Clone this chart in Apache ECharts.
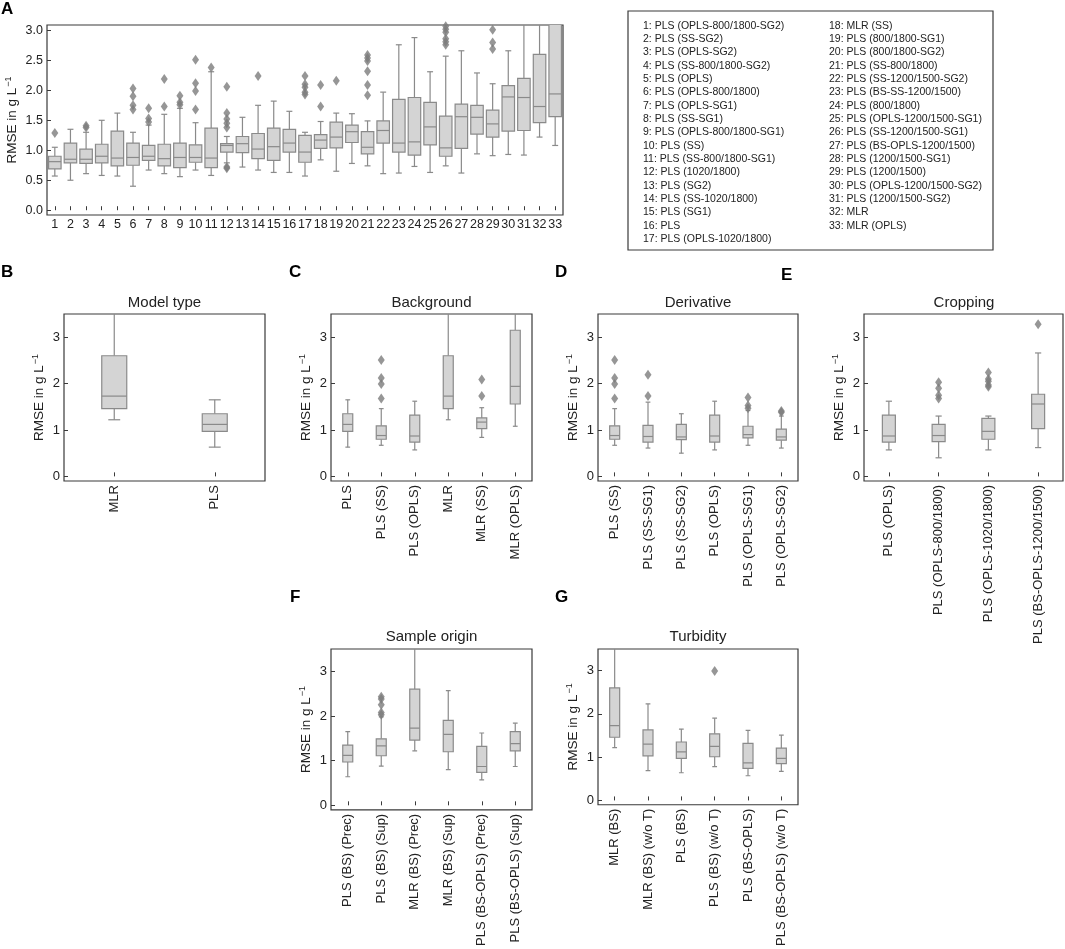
<!DOCTYPE html>
<html>
<head>
<meta charset="utf-8">
<script src="https://cdn.jsdelivr.net/npm/echarts@6/dist/echarts.min.js"></script>
<style>html,body{margin:0;padding:0;background:#fff}#c{width:1065px;height:949px}</style>
</head>
<body>
<div id="c"></div>
<script>
// ---------- DATA ----------
// Boxes: [lower whisker, Q1, median, Q3, upper whisker]; outliers: [category index, value]
const catsA = ['1','2','3','4','5','6','7','8','9','10','11','12','13','14','15','16','17','18','19','20','21','22','23','24','25','26','27','28','29','30','31','32','33'];
const boxesA = [
  [0.57,0.69,0.81,0.90,1.05],[0.50,0.79,0.85,1.12,1.35],[0.61,0.78,0.85,1.02,1.30],[0.58,0.79,0.90,1.10,1.50],
  [0.57,0.74,0.87,1.32,1.62],[0.40,0.75,0.88,1.12,1.30],[0.67,0.83,0.90,1.08,1.42],[0.61,0.74,0.86,1.10,1.60],
  [0.56,0.71,0.88,1.12,1.70],[0.67,0.80,0.88,1.09,1.46],[0.58,0.71,0.87,1.37,2.31],[0.79,0.97,1.08,1.11,1.23],
  [0.72,0.96,1.11,1.23,1.55],[0.67,0.86,1.02,1.28,1.75],[0.63,0.83,1.06,1.37,1.82],[0.63,0.97,1.12,1.35,1.65],
  [0.57,0.80,0.97,1.25,1.30],[0.84,1.03,1.17,1.26,1.48],[0.65,1.04,1.22,1.47,1.62],[0.78,1.13,1.31,1.42,1.61],
  [0.74,0.94,1.05,1.31,1.49],[0.61,1.12,1.33,1.49,1.97],[0.62,0.97,1.12,1.85,2.76],[0.73,0.92,1.14,1.88,2.88],
  [0.63,1.09,1.39,1.80,2.31],[0.74,0.90,1.04,1.57,2.57],[0.62,1.03,1.56,1.77,2.66],[0.94,1.27,1.55,1.75,2.29],
  [0.91,1.22,1.44,1.67,2.11],[0.93,1.32,1.89,2.08,2.66],[0.92,1.33,1.88,2.20,3.40],[1.22,1.46,1.73,2.60,3.60],
  [1.08,1.56,1.94,3.15,3.80]
];
const outliersA = [
  [0,1.29],[2,1.38],[2,1.41],[5,1.68],[5,1.75],[5,1.90],[5,2.03],[6,1.47],[6,1.53],[6,1.70],
  [7,1.73],[7,2.19],[8,1.76],[8,1.80],[8,1.91],[9,1.68],[9,1.99],[9,2.12],[9,2.51],[10,2.38],
  [11,0.70],[11,0.72],[11,1.38],[11,1.45],[11,1.52],[11,1.62],[11,2.06],[13,2.24],
  [16,1.93],[16,1.97],[16,2.05],[16,2.10],[16,2.24],[17,1.73],[17,2.09],[18,2.16],
  [20,1.92],[20,2.09],[20,2.32],[20,2.49],[20,2.54],[20,2.59],
  [25,2.76],[25,2.81],[25,2.86],[25,2.97],[25,3.02],[25,3.07],[28,2.69],[28,2.80],[28,3.01]
];
const legendLabels = [
  '1: PLS (OPLS-800/1800-SG2)','2: PLS (SS-SG2)','3: PLS (OPLS-SG2)','4: PLS (SS-800/1800-SG2)','5: PLS (OPLS)',
  '6: PLS (OPLS-800/1800)','7: PLS (OPLS-SG1)','8: PLS (SS-SG1)','9: PLS (OPLS-800/1800-SG1)','10: PLS (SS)',
  '11: PLS (SS-800/1800-SG1)','12: PLS (1020/1800)','13: PLS (SG2)','14: PLS (SS-1020/1800)','15: PLS (SG1)',
  '16: PLS','17: PLS (OPLS-1020/1800)','18: MLR (SS)','19: PLS (800/1800-SG1)','20: PLS (800/1800-SG2)',
  '21: PLS (SS-800/1800)','22: PLS (SS-1200/1500-SG2)','23: PLS (BS-SS-1200/1500)','24: PLS (800/1800)',
  '25: PLS (OPLS-1200/1500-SG1)','26: PLS (SS-1200/1500-SG1)','27: PLS (BS-OPLS-1200/1500)','28: PLS (1200/1500-SG1)',
  '29: PLS (1200/1500)','30: PLS (OPLS-1200/1500-SG2)','31: PLS (1200/1500-SG2)','32: MLR','33: MLR (OPLS)'
];
const yTicksA = [0, 0.5, 1.0, 1.5, 2.0, 2.5, 3.0];
const yTicksSub = [0, 1, 2, 3];

const catsB = ['MLR','PLS'];
const boxesB = [[1.22,1.46,1.73,2.60,3.60],[0.63,0.97,1.12,1.35,1.65]];
const outliersB = [];

const catsC = ['PLS','PLS (SS)','PLS (OPLS)','MLR','MLR (SS)','MLR (OPLS)'];
const boxesC = [[0.63,0.97,1.12,1.35,1.65],[0.67,0.80,0.88,1.09,1.46],[0.57,0.74,0.87,1.32,1.62],
                [1.22,1.46,1.73,2.60,3.60],[0.84,1.03,1.17,1.26,1.48],[1.08,1.56,1.94,3.15,3.80]];
const outliersC = [[1,1.68],[1,1.99],[1,2.12],[1,2.51],[4,1.73],[4,2.09]];

const catsD = ['PLS (SS)','PLS (SS-SG1)','PLS (SS-SG2)','PLS (OPLS)','PLS (OPLS-SG1)','PLS (OPLS-SG2)'];
const boxesD = [[0.67,0.80,0.88,1.09,1.46],[0.61,0.74,0.86,1.10,1.60],[0.50,0.79,0.85,1.12,1.35],
                [0.57,0.74,0.87,1.32,1.62],[0.67,0.83,0.90,1.08,1.42],[0.61,0.78,0.85,1.02,1.30]];
const outliersD = [[0,1.68],[0,1.99],[0,2.12],[0,2.51],[1,1.73],[1,2.19],[4,1.47],[4,1.53],[4,1.70],[5,1.38],[5,1.41]];

const catsE = ['PLS (OPLS)','PLS (OPLS-800/1800)','PLS (OPLS-1020/1800)','PLS (BS-OPLS-1200/1500)'];
const boxesE = [[0.57,0.74,0.87,1.32,1.62],[0.40,0.75,0.88,1.12,1.30],[0.57,0.80,0.97,1.25,1.30],[0.62,1.03,1.56,1.77,2.66]];
const outliersE = [[1,1.68],[1,1.75],[1,1.90],[1,2.03],[2,1.93],[2,1.97],[2,2.05],[2,2.10],[2,2.24],[3,3.28]];

const catsF = ['PLS (BS) (Prec)','PLS (BS) (Sup)','MLR (BS) (Prec)','MLR (BS) (Sup)','PLS (BS-OPLS) (Prec)','PLS (BS-OPLS) (Sup)'];
const boxesF = [[0.64,0.97,1.12,1.35,1.65],[0.88,1.11,1.33,1.49,1.98],[1.22,1.46,1.73,2.60,3.60],
                [0.80,1.20,1.59,1.90,2.57],[0.57,0.74,0.87,1.32,1.62],[0.87,1.22,1.38,1.65,1.84]];
const outliersF = [[1,2.03],[1,2.08],[1,2.25],[1,2.38],[1,2.43]];

const catsG = ['MLR (BS)','MLR (BS) (w/o T)','PLS (BS)','PLS (BS) (w/o T)','PLS (BS-OPLS)','PLS (BS-OPLS) (w/o T)'];
const boxesG = [[1.22,1.46,1.73,2.60,3.60],[0.69,1.03,1.30,1.63,2.23],[0.64,0.97,1.12,1.35,1.65],
                [0.78,1.01,1.25,1.54,1.90],[0.57,0.74,0.87,1.32,1.62],[0.67,0.85,0.97,1.21,1.51]];
const outliersG = [[3,2.99]];

const panelTitles = ['Model type','Background','Derivative','Cropping','Sample origin','Turbidity'];
const panelLetters = ['A','B','C','D','E','F','G'];

// ---------- STYLE / LAYOUT ----------
const FONT = '"Liberation Sans", Arial, Helvetica, sans-serif';
const FILL = '#d4d4d4', STROKE = '#8a8a8a', OUT = '#7c7c7c', FRAME = '#3a3a3a', TXT = '#222';

const panels = [
  {cats: catsA, boxes: boxesA, outs: outliersA, grid: {left: 47, top: 25, width: 516, height: 190}, boxW: 12.5, yMin: -0.08, yMax: 3.09, ticks: yTicksA, dec: 1, rotate: 0, nameGap: 27, fs: 12.5},
  {cats: catsB, boxes: boxesB, outs: outliersB, grid: {left: 64, top: 314, width: 201, height: 167}, boxW: 25, yMin: -0.1, yMax: 3.5, ticks: yTicksSub, dec: 0, rotate: 90, nameGap: 17, fs: 13},
  {cats: catsC, boxes: boxesC, outs: outliersC, grid: {left: 331, top: 314, width: 201, height: 167}, boxW: 10, yMin: -0.1, yMax: 3.5, ticks: yTicksSub, dec: 0, rotate: 90, nameGap: 17, fs: 13},
  {cats: catsD, boxes: boxesD, outs: outliersD, grid: {left: 598, top: 314, width: 200, height: 167}, boxW: 10, yMin: -0.1, yMax: 3.5, ticks: yTicksSub, dec: 0, rotate: 90, nameGap: 17, fs: 13},
  {cats: catsE, boxes: boxesE, outs: outliersE, grid: {left: 864, top: 314, width: 199, height: 167}, boxW: 13, yMin: -0.1, yMax: 3.5, ticks: yTicksSub, dec: 0, rotate: 90, nameGap: 17, fs: 13},
  {cats: catsF, boxes: boxesF, outs: outliersF, grid: {left: 331, top: 649, width: 201, height: 166}, boxW: 10, yMin: -0.1, yMax: 3.5, ticks: yTicksSub, dec: 0, rotate: 90, nameGap: 17, fs: 13},
  {cats: catsG, boxes: boxesG, outs: outliersG, grid: {left: 598, top: 649, width: 200, height: 166}, boxW: 10, yMin: -0.1, yMax: 3.5, ticks: yTicksSub, dec: 0, rotate: 90, nameGap: 17, fs: 13}
];

const grids = [], xAxes = [], yAxes = [], series = [];
panels.forEach((p, k) => {
  grids.push(Object.assign({show: true, borderColor: FRAME, borderWidth: 1.2, backgroundColor: 'transparent'}, p.grid));
  xAxes.push({
    type: 'category', gridIndex: k, data: p.cats, boundaryGap: true,
    axisLine: {show: false},
    axisTick: {show: true, inside: true, alignWithLabel: true, length: 4, lineStyle: {color: FRAME, width: 1}},
    axisLabel: {interval: 0, rotate: p.rotate, margin: p.rotate ? 4 : 3, color: TXT, fontFamily: FONT, fontSize: p.fs},
    splitLine: {show: false}
  });
  yAxes.push({
    type: 'value', gridIndex: k, min: p.yMin, max: p.yMax,
    axisLine: {show: false},
    axisTick: {show: true, inside: true, length: 4, customValues: p.ticks, lineStyle: {color: FRAME, width: 1}},
    axisLabel: {customValues: p.ticks, margin: 4, color: TXT, fontFamily: FONT, fontSize: p.fs,
                formatter: v => Number(v).toFixed(p.dec)},
    splitLine: {show: false},
    name: '{a|RMSE in g L}{s|−1}', nameLocation: 'middle', nameGap: p.nameGap,
    nameTextStyle: {color: TXT, fontFamily: FONT, rich: {
      a: {fontSize: 13.5, fontFamily: FONT, color: TXT, lineHeight: 16},
      s: {fontSize: 9, fontFamily: FONT, color: TXT, verticalAlign: 'top', lineHeight: 16, padding: [0, 0, 6, 1]}
    }}
  });
  const boxW = p.boxW;
  series.push({
    type: 'custom', xAxisIndex: k, yAxisIndex: k, clip: true,
    data: p.boxes.map((b, i) => [i].concat(b)),
    encode: {x: 0, y: [1, 2, 3, 4, 5]},
    renderItem: (params, api) => {
      const i = api.value(0);
      const pts = [1, 2, 3, 4, 5].map(d => api.coord([i, api.value(d)]));
      const cx = pts[0][0], hw = boxW / 2, cw = boxW / 4.2;
      const ls = {stroke: STROKE, lineWidth: 1.2};
      return {type: 'group', children: [
        {type: 'line', shape: {x1: cx, y1: pts[1][1], x2: cx, y2: pts[0][1]}, style: ls},
        {type: 'line', shape: {x1: cx, y1: pts[3][1], x2: cx, y2: pts[4][1]}, style: ls},
        {type: 'line', shape: {x1: cx - cw, y1: pts[0][1], x2: cx + cw, y2: pts[0][1]}, style: ls},
        {type: 'line', shape: {x1: cx - cw, y1: pts[4][1], x2: cx + cw, y2: pts[4][1]}, style: ls},
        {type: 'rect', shape: {x: cx - hw, y: pts[3][1], width: boxW, height: pts[1][1] - pts[3][1]},
          style: {fill: FILL, stroke: STROKE, lineWidth: 1.2}},
        {type: 'line', shape: {x1: cx - hw, y1: pts[2][1], x2: cx + hw, y2: pts[2][1]}, style: ls}
      ]};
    }
  });
  series.push({
    type: 'scatter', xAxisIndex: k, yAxisIndex: k, clip: true,
    data: p.outs, symbol: 'diamond', symbolSize: [7, 10],
    itemStyle: {color: OUT}, silent: true
  });
});

// ---------- TEXT GRAPHICS ----------
const graphic = [];
const letterPos = [[1, 10], [1, 273], [289, 273], [555, 273], [781, 276], [290, 598], [555, 598]];
panelLetters.forEach((t, i) => graphic.push({type: 'text', left: letterPos[i][0], top: letterPos[i][1] - 9,
  style: {text: t, font: 'bold 17px ' + FONT, fill: '#000'}}));
const titlePos = [[164.5, 303], [431.5, 303], [698, 303], [964, 303], [431.5, 637], [698, 637]];
panelTitles.forEach((t, i) => graphic.push({type: 'text', x: titlePos[i][0], y: titlePos[i][1],
  style: {text: t, font: '15px ' + FONT, fill: TXT, textAlign: 'center', textVerticalAlign: 'middle'}}));
graphic.push({type: 'rect', shape: {x: 628, y: 11, width: 365, height: 239},
  style: {fill: 'none', stroke: FRAME, lineWidth: 1.2}});
legendLabels.forEach((t, i) => {
  const col = i < 17 ? 0 : 1, row = col ? i - 17 : i;
  graphic.push({type: 'text', x: col ? 829 : 643, y: 25.7 + row * 13.33,
    style: {text: t, font: '10.5px ' + FONT, fill: TXT, textAlign: 'left', textVerticalAlign: 'middle'}});
});

const chart = echarts.init(document.getElementById('c'), null, {renderer: 'canvas'});
chart.setOption({
  animation: false, backgroundColor: '#fff',
  grid: grids, xAxis: xAxes, yAxis: yAxes, series: series, graphic: graphic
});
</script>
</body>
</html>
